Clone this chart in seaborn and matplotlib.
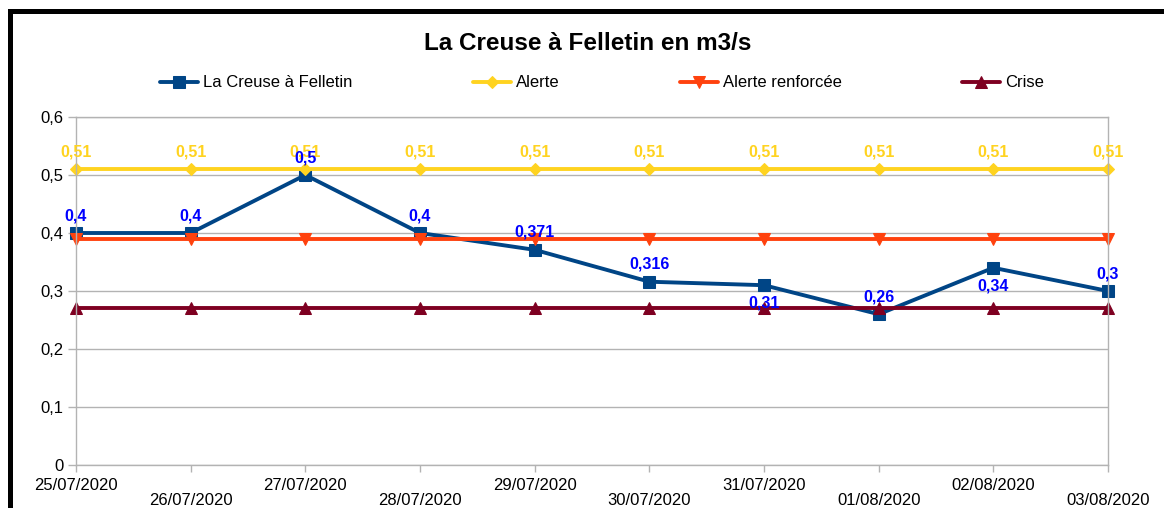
import pandas as pd
import seaborn as sns
import matplotlib.pyplot as plt
import matplotlib.ticker as mticker
from matplotlib.patches import Rectangle

# data
dates = ["25/07/2020", "26/07/2020", "27/07/2020", "28/07/2020", "29/07/2020",
         "30/07/2020", "31/07/2020", "01/08/2020", "02/08/2020", "03/08/2020"]
debit = [0.4, 0.4, 0.5, 0.4, 0.371, 0.316, 0.31, 0.26, 0.34, 0.3]
alerte = [0.51, 0.51, 0.51, 0.51, 0.51, 0.51, 0.51, 0.51, 0.51, 0.51]
alerte_renf = [0.39, 0.39, 0.39, 0.39, 0.39, 0.39, 0.39, 0.39, 0.39, 0.39]
crise = [0.27, 0.27, 0.27, 0.27, 0.27, 0.27, 0.27, 0.27, 0.27, 0.27]
noms = ["La Creuse à Felletin", "Alerte", "Alerte renforcée", "Crise"]

sns.set_style("white")
plt.rcParams["font.family"] = ["Liberation Sans", "DejaVu Sans"]
plt.rcParams["text.color"] = "black"

# long form table for seaborn
rows = []
for nom, vals in zip(noms, [debit, alerte, alerte_renf, crise]):
    for i, v in enumerate(vals):
        rows.append({"jour": i, "valeur": v, "serie": nom})
df = pd.DataFrame(rows)

couleurs = {"La Creuse à Felletin": "#004586", "Alerte": "#ffd320",
            "Alerte renforcée": "#ff420e", "Crise": "#7e0021"}
marqueurs = {"La Creuse à Felletin": "s", "Alerte": "D",
             "Alerte renforcée": "v", "Crise": "^"}
tailles = {"La Creuse à Felletin": 8, "Alerte": 6,
           "Alerte renforcée": 8.5, "Crise": 8.5}

W, H = 1164, 508
fig = plt.figure(figsize=(W / 100, H / 100), dpi=100)
ax = fig.add_axes([76 / W, 1 - 465 / H, (1108 - 76) / W, (465 - 117) / H])

sns.lineplot(data=df, x="jour", y="valeur", hue="serie", style="serie",
             hue_order=noms, style_order=noms, palette=couleurs,
             markers=marqueurs, dashes=False, linewidth=2.8, legend=False, ax=ax)

for line, nom in zip(ax.lines, noms):
    line.set_markeredgecolor(line.get_color())
    line.set_markerfacecolor(line.get_color())
    line.set_markersize(tailles[nom])
    line.set_clip_on(False)

# data labels
for i, v in enumerate(alerte):
    ax.annotate(f"{v:g}".replace(".", ","), (i, v), xytext=(0, 12.5),
                textcoords="offset points", ha="center", va="center",
                color="#ffd320", fontsize=11.5, fontweight="bold", zorder=10)
dessous = {6, 8}
for i, v in enumerate(debit):
    dy = -13 if i in dessous else 12.5
    ax.annotate(f"{v:g}".replace(".", ","), (i, v), xytext=(0, dy),
                textcoords="offset points", ha="center", va="center",
                color="#0000ff", fontsize=11.5, fontweight="bold", zorder=11)

# axes
ax.set_xlim(0, len(dates) - 1)
ax.set_ylim(0, 0.6)
ax.yaxis.set_major_locator(mticker.MultipleLocator(0.1))
ax.yaxis.set_major_formatter(mticker.FuncFormatter(lambda v, p: f"{v:.1f}".replace(".", ",") if v else "0"))
ax.grid(axis="y", color="#b3b3b3", linewidth=1)
ax.grid(axis="x", visible=False)
for s in ax.spines.values():
    s.set_color("#b3b3b3")
    s.set_linewidth(1)

ax.set_xticks(range(0, len(dates), 2))
ax.set_xticklabels(dates[0::2])
ax.set_xticks(range(1, len(dates), 2), minor=True)
ax.set_xticklabels(dates[1::2], minor=True)
ax.tick_params(axis="x", which="both", direction="out", length=5, width=1,
               color="#b3b3b3", labelsize=12, labelcolor="black", bottom=True)
ax.tick_params(axis="x", which="major", pad=4)
ax.tick_params(axis="x", which="minor", pad=15.5)
ax.tick_params(axis="y", direction="out", length=6, width=1, color="#b3b3b3",
               labelsize=12, labelcolor="black", pad=3, left=True)
ax.set_xlabel("")
ax.set_ylabel("")

fig.legend(handles=ax.lines[:4], labels=noms, loc="center",
           bbox_to_anchor=(602 / W, 1 - 83 / H), ncol=4, frameon=False,
           fontsize=12, handlelength=2.3, handletextpad=0.3, columnspacing=7.2)

fig.text(588 / W, 1 - 44 / H, "La Creuse à Felletin en m3/s", ha="center",
         va="center", fontsize=17.5, fontweight="bold", color="black")

# black frame around the chart
fig.patches.append(Rectangle((9.5 / W, -0.2), 1.5, 1.2 - 10.5 / H, fill=False,
                             edgecolor="black", linewidth=3.6,
                             transform=fig.transFigure, figure=fig))

fig.savefig("out.png", dpi=100)
